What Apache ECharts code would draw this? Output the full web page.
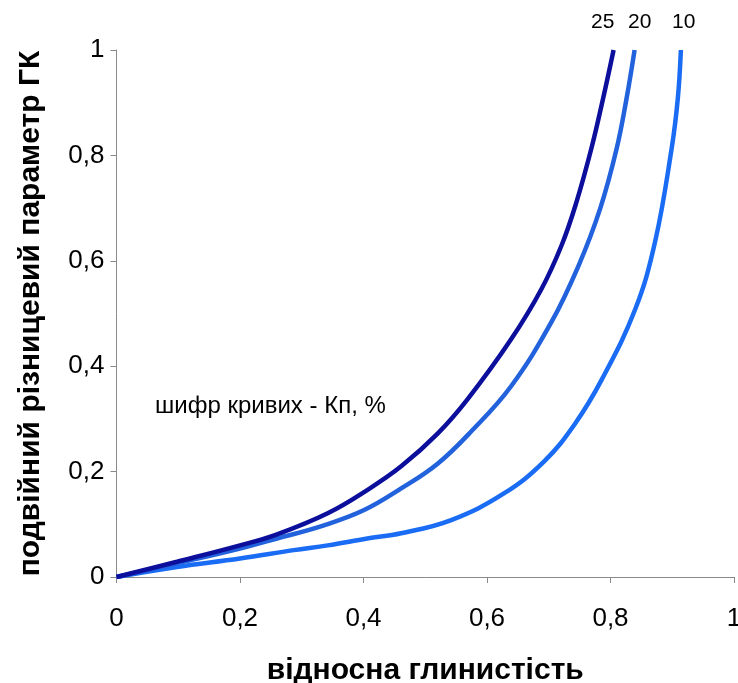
<!DOCTYPE html>
<html>
<head>
<meta charset="utf-8">
<script src="https://cdn.jsdelivr.net/npm/echarts@6/dist/echarts.min.js"></script>
<style>
html,body{margin:0;padding:0;background:#fff;}
#chart{width:738px;height:683px;}
</style>
</head>
<body>
<div id="chart"></div>
<script>
// Curve codes (Kp, %)
const curveNames = ['25', '20', '10'];
// x: relative clayiness, y: double difference GR parameter
const curve25 = [[0,0],[0.098,0.029],[0.2,0.06],[0.26,0.081],[0.342,0.121],[0.406,0.165],[0.461,0.21],[0.52,0.272],[0.569,0.338],[0.639,0.451],[0.688,0.546],[0.721,0.63],[0.744,0.708],[0.769,0.813],[0.788,0.908],[0.805,1.0]];
const curve20 = [[0,0],[0.098,0.026],[0.2,0.054],[0.26,0.073],[0.336,0.098],[0.401,0.127],[0.461,0.168],[0.52,0.215],[0.575,0.277],[0.639,0.362],[0.704,0.483],[0.748,0.59],[0.783,0.698],[0.81,0.813],[0.826,0.908],[0.839,1.0]];
const curve10 = [[0,0],[0.098,0.019],[0.2,0.035],[0.287,0.051],[0.342,0.06],[0.406,0.073],[0.461,0.083],[0.542,0.108],[0.628,0.159],[0.693,0.22],[0.742,0.29],[0.786,0.375],[0.84,0.508],[0.872,0.635],[0.899,0.813],[0.909,0.908],[0.914,1.0]];
const xTicks = [0, 0.2, 0.4, 0.6, 0.8, 1];
const yTicks = [0, 0.2, 0.4, 0.6, 0.8, 1];
const xTitle = 'відносна глинистість';
const yTitle = 'подвійний різницевий параметр ГК';
const noteText = 'шифр кривих - Кп, %';

const FONT = '"Liberation Sans", Arial, sans-serif';
const colors = ['#0c0f9c', '#2262dc', '#1a6cf4'];
const fmt = v => String(Math.round(v * 10) / 10).replace('.', ',');

const chart = echarts.init(document.getElementById('chart'));
const seriesData = [curve25, curve20, curve10];
chart.setOption({
  animation: false,
  backgroundColor: '#fff',
  grid: {left: 116.5, right: 4, top: 50, bottom: 106, containLabel: false, outerBoundsMode: 'none'},
  xAxis: {
    type: 'value', min: 0, max: 1, interval: 0.2,
    name: xTitle, nameLocation: 'middle', nameGap: 79,
    nameTextStyle: {fontFamily: FONT, fontSize: 30, fontWeight: 'bold', color: '#000'},
    axisLine: {show: true, lineStyle: {color: '#8a8a8a', width: 1}},
    axisTick: {show: true, length: 6, lineStyle: {color: '#8a8a8a'}},
    splitLine: {show: false},
    axisLabel: {fontFamily: FONT, fontSize: 26, color: '#000', margin: 29, formatter: fmt, showMaxLabel: true}
  },
  yAxis: {
    type: 'value', min: 0, max: 1, interval: 0.2,
    name: yTitle, nameLocation: 'middle', nameGap: 71, nameRotate: 90,
    nameTextStyle: {fontFamily: FONT, fontSize: 30, fontWeight: 'bold', color: '#000'},
    axisLine: {show: true, lineStyle: {color: '#8a8a8a', width: 1}},
    axisTick: {show: true, length: 6, lineStyle: {color: '#8a8a8a'}},
    splitLine: {show: false},
    axisLabel: {fontFamily: FONT, fontSize: 26, color: '#000', margin: 12, formatter: fmt}
  },
  series: seriesData.map((d, i) => ({
    type: 'line', name: curveNames[i], data: d,
    smooth: 0.4, showSymbol: false, symbol: 'none',
    lineStyle: {color: colors[i], width: 4.5, cap: 'butt'},
    z: 3 - i
  })),
  graphic: [
    {type: 'text', left: 155, top: 394, style: {text: noteText, font: '24px ' + FONT, fill: '#000'}},
    {type: 'text', left: 591, top: 12, style: {text: curveNames[0], font: '21px ' + FONT, fill: '#000'}},
    {type: 'text', left: 628, top: 12, style: {text: curveNames[1], font: '21px ' + FONT, fill: '#000'}},
    {type: 'text', left: 672, top: 12, style: {text: curveNames[2], font: '21px ' + FONT, fill: '#000'}}
  ]
});
</script>
</body>
</html>
